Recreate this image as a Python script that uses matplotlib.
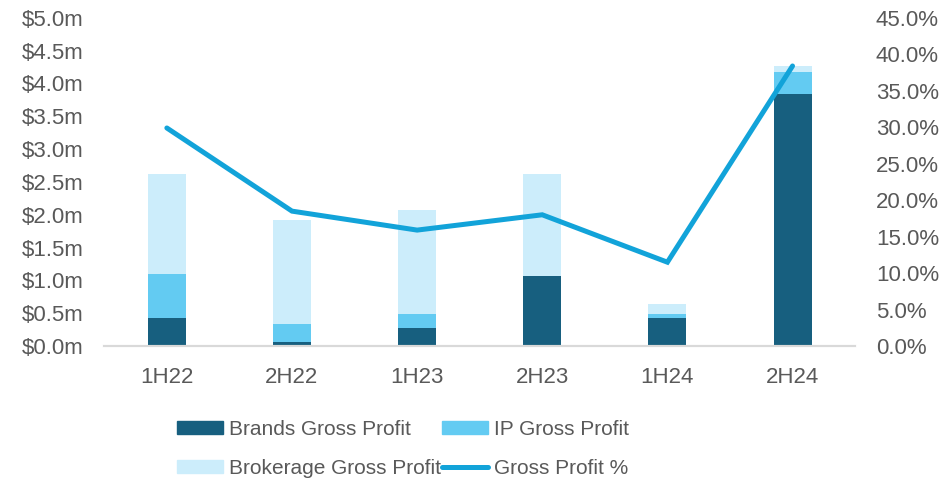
import matplotlib.pyplot as plt
import numpy as np
from matplotlib.patches import Patch
from matplotlib.lines import Line2D

plt.rcParams['font.family'] = ['Liberation Sans', 'DejaVu Sans']

# Half-year periods
periods = ['1H22', '2H22', '1H23', '2H23', '1H24', '2H24']

# Gross profit by segment ($m)
brands = [0.43, 0.06, 0.27, 1.07, 0.43, 3.84]
ip = [0.67, 0.275, 0.22, 0.0, 0.06, 0.34]
brokerage = [1.52, 1.585, 1.58, 1.55, 0.15, 0.09]

# Gross profit margin (%)
gp_pct = [29.9, 18.5, 15.9, 18.0, 11.5, 38.4]

c_brands = '#175F7F'
c_ip = '#63CBF2'
c_brok = '#CCEDFB'
c_line = '#12A3D9'
txt = '#595959'

fig = plt.figure(figsize=(9.48, 4.82), dpi=100)
ax = fig.add_axes([0.110, 0.282, 0.792, 0.681])
ax2 = ax.twinx()

x = np.arange(len(periods))
w = 0.304
b1 = np.array(brands)
b2 = b1 + np.array(ip)
ax.bar(x, brands, w, color=c_brands, zorder=2)
ax.bar(x, ip, w, bottom=b1, color=c_ip, zorder=2)
ax.bar(x, brokerage, w, bottom=b2, color=c_brok, zorder=2)

ax2.plot(x, gp_pct, color=c_line, lw=3.6, solid_capstyle='round', solid_joinstyle='miter')

ax.set_xlim(-0.5, len(periods) - 0.5)
ax.set_ylim(0, 5.0)
ax2.set_ylim(0, 45)
ax.set_yticks(np.arange(0, 5.01, 0.5))
ax.set_yticklabels(['$%.1fm' % v for v in np.arange(0, 5.01, 0.5)])
ax2.set_yticks(np.arange(0, 45.1, 5))
ax2.set_yticklabels(['%.1f%%' % v for v in np.arange(0, 45.1, 5)])
ax.set_xticks(x)
ax.set_xticklabels(periods)

for a in (ax, ax2):
    for s in ['top', 'left', 'right']:
        a.spines[s].set_visible(False)
    a.spines['bottom'].set_color('#D9D9D9')
    a.spines['bottom'].set_linewidth(1.5)
    a.tick_params(length=0, labelsize=16, colors=txt)
ax.tick_params(axis='y', pad=15)
ax2.tick_params(axis='y', pad=15)
ax.tick_params(axis='x', pad=15)

# legend filled row by row (column-major order for ncol=2)
handles = [Patch(color=c_brands), Patch(color=c_brok), Patch(color=c_ip),
           Line2D([], [], color=c_line, lw=3.6, solid_capstyle='round')]
labels = ['Brands Gross Profit', 'Brokerage Gross Profit', 'IP Gross Profit', 'Gross Profit %']
leg = fig.legend(handles, labels, ncol=2, loc='center', bbox_to_anchor=(0.425, 0.069),
                 frameon=False, fontsize=15, handlelength=2.2, handleheight=0.55,
                 handletextpad=0.3, columnspacing=0.05, labelspacing=0.95)
for t in leg.get_texts():
    t.set_color(txt)

fig.savefig('out.png', dpi=100)
